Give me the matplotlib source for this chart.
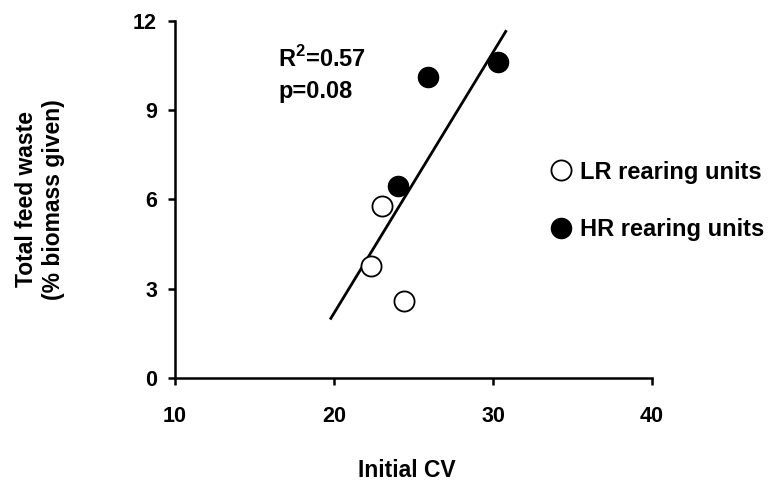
import numpy as np
import matplotlib
matplotlib.use("Agg")
import matplotlib.pyplot as plt
from matplotlib.lines import Line2D

plt.rcParams['font.family'] = ['Liberation Sans', 'DejaVu Sans']
plt.rcParams['font.weight'] = 'bold'
plt.rcParams['mathtext.fontset'] = 'custom'
plt.rcParams['mathtext.rm'] = 'Liberation Sans:bold'
plt.rcParams['mathtext.bf'] = 'Liberation Sans:bold'

# Initial coefficient of variation and total feed waste per rearing unit
lr_cv = [23.0, 22.35, 24.4]
lr_waste = [5.78, 3.76, 2.59]
hr_cv = [24.0, 25.9, 30.3]
hr_waste = [6.46, 10.11, 10.62]

x_ticks = [10, 20, 30, 40]
y_ticks = [0, 3, 6, 9, 12]
fit_range = (19.8, 30.8)

fig = plt.figure(figsize=(7.7, 4.84), dpi=100)
ax = fig.add_axes([0.2273, 0.219, 0.6195, 0.738])

# Linear regression over all units
all_x = np.array(lr_cv + hr_cv)
all_y = np.array(lr_waste + hr_waste)
slope, intercept = np.polyfit(all_x, all_y, 1)
fx = np.array(fit_range)
ax.plot(fx, slope * fx + intercept, color='black', lw=2.0, zorder=2)

ms = 14.5
ax.plot(lr_cv, lr_waste, 'o', ms=ms, mfc='white', mec='black', mew=1.3,
        linestyle='none', zorder=3)
ax.plot(hr_cv, hr_waste, 'o', ms=ms, mfc='black', mec='black',
        linestyle='none', zorder=3)

ax.set_xlim(10, 40)
ax.set_ylim(0, 12)
ax.set_xticks(x_ticks)
ax.set_yticks(y_ticks)
for s in ('top', 'right'):
    ax.spines[s].set_visible(False)
for s in ('left', 'bottom'):
    ax.spines[s].set_linewidth(1.8)
ax.tick_params(direction='out', length=5, width=1.8, labelsize=15.5)
ax.tick_params(axis='y', pad=8)
ax.tick_params(axis='x', pad=15)
for lab in ax.get_xticklabels() + ax.get_yticklabels():
    lab.set_fontweight('bold')

ax.set_xlabel('Initial CV', fontsize=16.5, fontweight='bold')
ax.xaxis.set_label_coords(0.486, -0.228)
ax.set_ylabel('Total feed waste\n(% biomass given)', fontsize=16.5,
              fontweight='bold', linespacing=1.25)
ax.yaxis.set_label_coords(-0.23, 0.5)

ax.text(0.216, 0.93, 'R$^{\\mathbf{2}}$=0.57\np=0.08', transform=ax.transAxes,
        fontsize=17, fontweight='bold', va='top', ha='left', linespacing=1.45)

handles = [
    Line2D([], [], marker='o', ms=ms, mfc='white', mec='black', mew=1.3, ls='none'),
    Line2D([], [], marker='o', ms=ms, mfc='black', mec='black', ls='none'),
]
fig.legend(handles, ['LR rearing units', 'HR rearing units'],
           loc='center left', bbox_to_anchor=(0.7, 0.585), frameon=False,
           prop={'size': 17, 'weight': 'bold'}, labelspacing=1.45,
           handletextpad=0.35, handlelength=0.9, borderpad=0)

fig.savefig('out.png', dpi=100)
